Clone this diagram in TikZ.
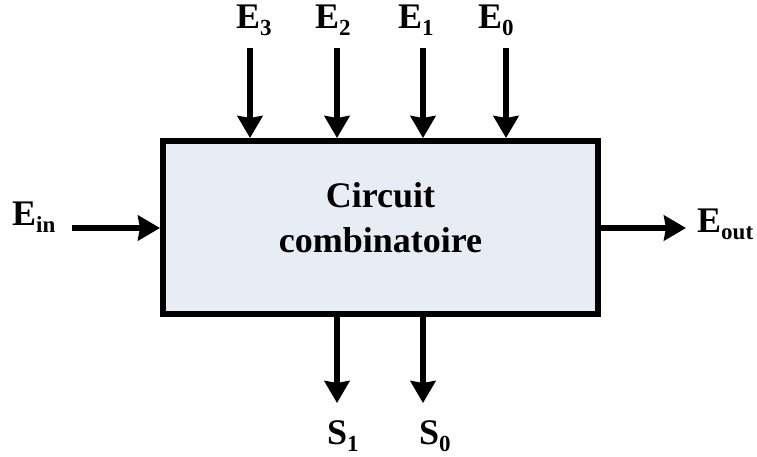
\documentclass[tikz,border=0pt]{standalone}
\usepackage{fontspec}
\setmainfont{Liberation Serif}
\usetikzlibrary{arrows.meta}
\definecolor{boxfill}{RGB}{232,236,244}
\newcommand{\subl}[2]{#1\raisebox{-7pt}{\fontsize{23}{23}\selectfont #2}}
\begin{document}
\begin{tikzpicture}[x=1pt,y=-1pt,
  every node/.style={font=\fontsize{36}{45}\selectfont\bfseries, inner sep=0pt},
  arr/.style={line width=5.5pt, -{Stealth[length=22pt,width=25pt,inset=2pt]}},
  blockbox/.style={draw, line width=6pt, fill=boxfill, minimum width=435pt, minimum height=173pt}]
\useasboundingbox (0,0) rectangle (757,457);
\node[blockbox] (box) at (380.5,227.5) {};
\node[align=center] (title) at (380.5,218) {Circuit\\combinatoire};
% input/output free ends
\coordinate (e3s) at (250,48);
\coordinate (e2s) at (337,48);
\coordinate (e1s) at (423,48);
\coordinate (e0s) at (506,48);
\coordinate (eins) at (72,228);
\coordinate (eoute) at (686,228);
\coordinate (s1e) at (337,403);
\coordinate (s0e) at (423,403);
\draw[arr] (e3s) -- (e3s |- box.north);
\draw[arr] (e2s) -- (e2s |- box.north);
\draw[arr] (e1s) -- (e1s |- box.north);
\draw[arr] (e0s) -- (e0s |- box.north);
\draw[arr] (eins) -- (eins -| box.west);
\draw[arr] (eoute -| box.east) -- (eoute);
\draw[arr] (s1e |- box.south) -- (s1e);
\draw[arr] (s0e |- box.south) -- (s0e);
% labels
\node[anchor=base west] (le3) at (236,29) {\subl{E}{3}};
\node[anchor=base west] (le2) at (315,29) {\subl{E}{2}};
\node[anchor=base west] (le1) at (398,29) {\subl{E}{1}};
\node[anchor=base west] (le0) at (478,29) {\subl{E}{0}};
\node[anchor=base west] (lein) at (12,225) {\subl{E}{in}};
\node[anchor=base west] (leout) at (697,232) {\subl{E}{out}};
\node[anchor=base west] (ls1) at (327,444) {\subl{S}{1}};
\node[anchor=base west] (ls0) at (419,444) {\subl{S}{0}};
\end{tikzpicture}
\end{document}
